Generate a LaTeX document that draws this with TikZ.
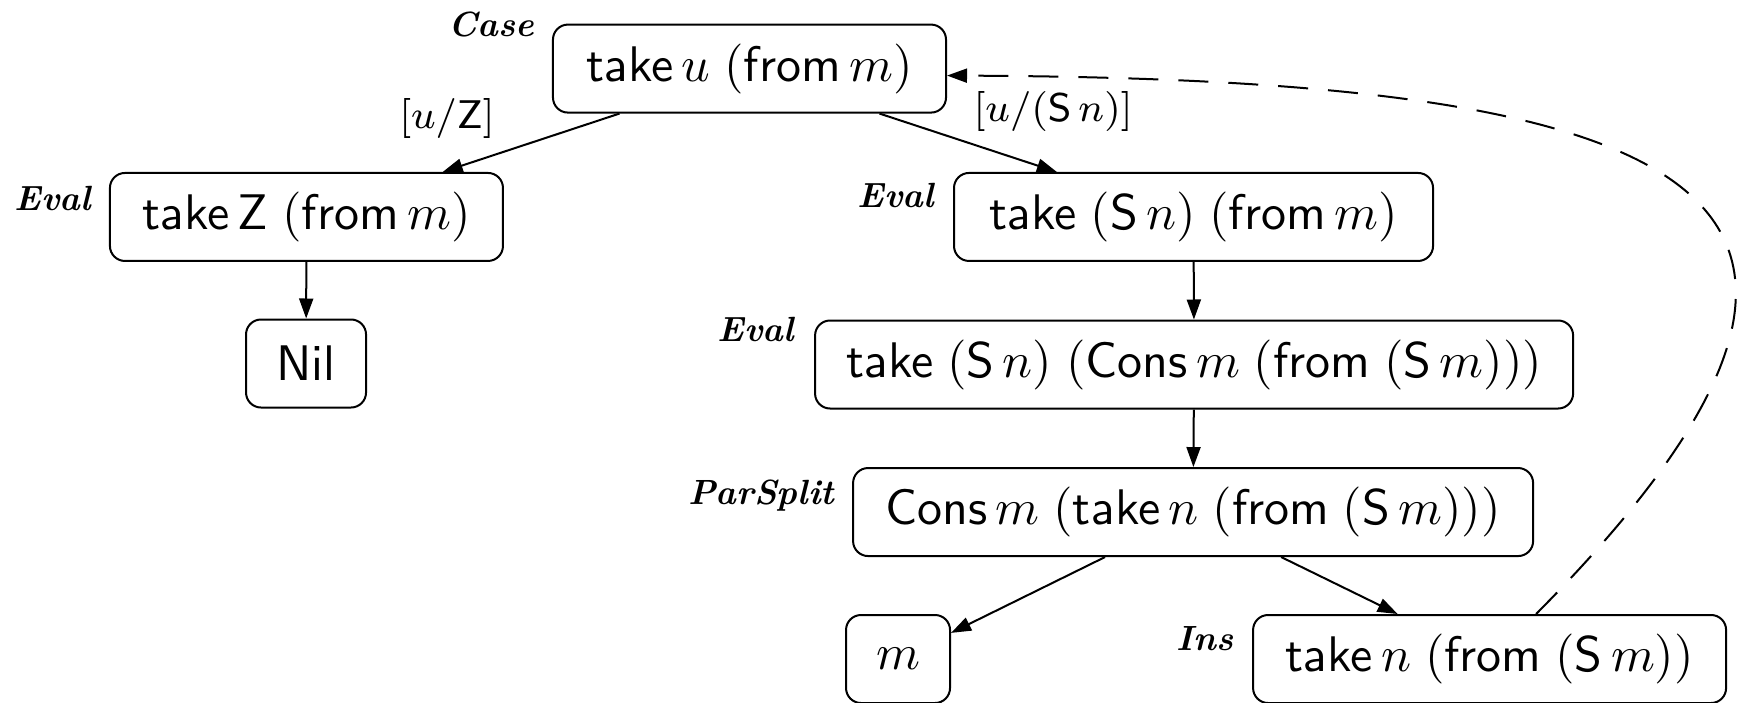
\documentclass[tikz,border=0pt]{standalone}
\usepackage{amsmath,amssymb}
\usepackage{tikz}
\usetikzlibrary{arrows.meta,positioning,calc}
\tikzset{
  expr/.style  = {rectangle, rounded corners=3pt, draw, line width=0.4pt,
                  minimum height=17.6pt, inner xsep=5pt,
                  font=\fontsize{10.4}{12.5}\selectfont},
  rul/.style   = {anchor=east, inner sep=0pt, font=\scriptsize\bfseries\itshape},
  sub/.style   = {inner sep=0pt, font=\footnotesize},
  fl/.style    = {-{Triangle[length=4pt,width=2.8pt]}, line width=0.4pt},
  back/.style  = {fl, dash pattern=on 6pt off 4pt},
}
\newcommand{\ks}[1]{\mathsf{#1}}

\begin{document}
\begin{tikzpicture}
  \useasboundingbox (0,0) rectangle (12.223,-4.941);

  \node[expr, minimum width=78.6pt]  (case)  at (5.268,-0.482) {$\ks{take}\,u\;(\ks{from}\,m)$};
  \node[expr, minimum width=78.6pt]  (evalZ) at (2.154,-1.525) {$\ks{take}\,\ks{Z}\;(\ks{from}\,m)$};
  \node[expr, minimum width=24pt]    (nil)   at (2.151,-2.555) {$\ks{Nil}$};
  \node[expr, minimum width=95.8pt]  (evalS) at (8.389,-1.525) {$\ks{take}\;(\ks{S}\,n)\;(\ks{from}\,m)$};
  \node[expr, minimum width=151.6pt] (evalC) at (8.393,-2.562) {$\ks{take}\;(\ks{S}\,n)\;(\ks{Cons}\,m\;(\ks{from}\;(\ks{S}\,m)))$};
  \node[expr, minimum width=136pt]   (split) at (8.386,-3.599) {$\ks{Cons}\,m\;(\ks{take}\,n\;(\ks{from}\;(\ks{S}\,m)))$};
  \node[expr, minimum width=20.8pt]  (mnode) at (6.312,-4.632) {$m$};
  \node[expr, minimum width=94.6pt]  (ins)   at (10.470,-4.632) {$\ks{take}\,n\;(\ks{from}\;(\ks{S}\,m))$};

  % rule names
  \node[rul] (rCase)  at (3.760,-0.169) {Case};
  \node[rul] (rEvalZ) at (0.647,-1.392) {Eval};
  \node[rul] (rEvalS) at (6.572,-1.371) {Eval};
  \node[rul] (rEvalC) at (5.588,-2.313) {Eval};
  \node[rul] (rSplit) at (5.869,-3.486) {ParSplit};
  \node[rul] (rIns)   at (8.674,-4.492) {Ins};

  % substitutions
  \node[sub] (subZ) at (3.142,-0.836) {$[u/\ks{Z}]$};
  \node[sub] (subS) at (7.402,-0.787) {$[u/(\ks{S}\,n)]$};

  \draw[fl] ([xshift=-0.914cm]case.south) -- (evalZ);
  \draw[fl] ([xshift=0.914cm]case.south) -- (evalS);
  \draw[fl] (evalZ) -- (nil);
  \draw[fl] (evalS) -- (evalC);
  \draw[fl] (evalC) -- (split);
  \draw[fl] ([xshift=-0.619cm]split.south) -- (mnode);
  \draw[fl] ([xshift=0.619cm]split.south) -- (ins);

  \draw[back] ([xshift=9.3pt]ins.north) .. controls +(3.051,3.079) and +(5.005,-0.021) .. ([yshift=-1.4pt]case.east);
\end{tikzpicture}
\end{document}
